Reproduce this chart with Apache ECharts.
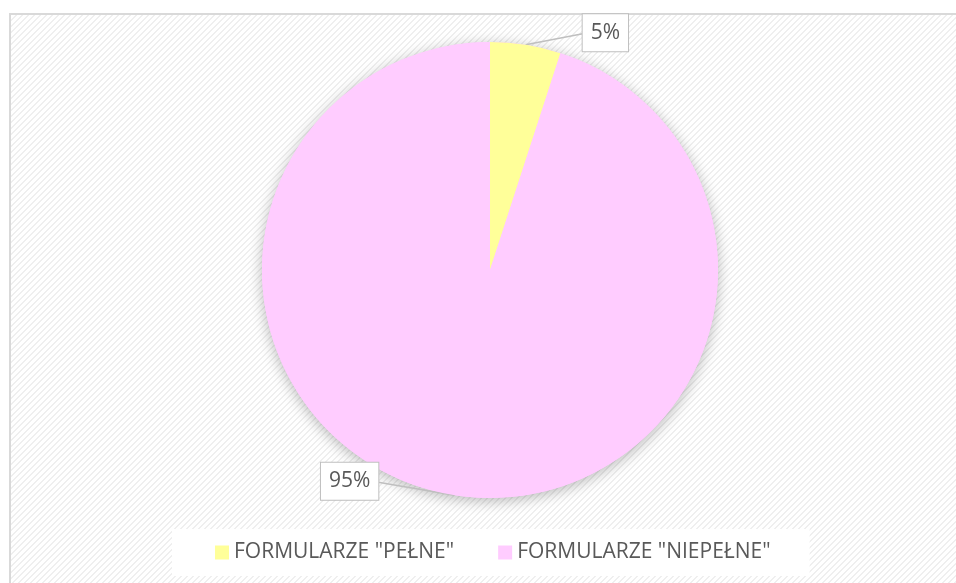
<!DOCTYPE html>
<html>
<head>
<meta charset="utf-8">
<style>
  html, body { margin: 0; padding: 0; background: #ffffff; }
  #chart { width: 956px; height: 583px; }
</style>
<script src="https://cdn.jsdelivr.net/npm/echarts@6/dist/echarts.min.js"></script>
</head>
<body>
<div id="chart"></div>
<script>
var categories = ['FORMULARZE "PEŁNE"', 'FORMULARZE "NIEPEŁNE"'];
var values = [5, 95];
var sliceColors = ['#ffff99', '#ffccff'];

// offsets of label boxes relative to each slice's label anchor (styling only)
var labelOffsets = [
  { dx: 57, dy: -12, align: 'left' },
  { dx: -76, dy: -14, align: 'right' }
];

function makePattern() {
  var c = document.createElement('canvas');
  c.width = 6; c.height = 6;
  var ctx = c.getContext('2d');
  ctx.fillStyle = '#ffffff';
  ctx.fillRect(0, 0, 6, 6);
  ctx.fillStyle = '#efefef';
  for (var y = 0; y < 6; y++) {
    for (var x = 0; x < 6; x++) {
      if (((x + y) % 6) < 2) ctx.fillRect(x, y, 1, 1);
    }
  }
  return c;
}

var chart = echarts.init(document.getElementById('chart'), null, { renderer: 'canvas' });
var total = values.reduce(function (s, v) { return s + v; }, 0);

var option = {
  backgroundColor: '#ffffff',
  animation: false,
  textStyle: { fontFamily: 'Open Sans' },
  graphic: [{
    type: 'rect',
    z: -10,
    silent: true,
    shape: { x: 10, y: 14, width: 960, height: 600 },
    style: { fill: { image: makePattern(), repeat: 'repeat' }, stroke: '#d9d9d9', lineWidth: 2 }
  }],
  legend: {
    data: categories,
    top: 529,
    left: 172,
    backgroundColor: '#ffffff',
    padding: [13, 39, 13, 43],
    itemGap: 44,
    itemWidth: 14,
    itemHeight: 14,
    icon: 'rect',
    selectedMode: false,
    textStyle: { fontFamily: 'Open Sans', fontSize: 21, color: '#595959', lineHeight: 20 }
  },
  series: [
    {
      type: 'pie',
      silent: true,
      z: 1,
      center: [490, 270],
      radius: 228,
      label: { show: false },
      labelLine: { show: false },
      itemStyle: {
        color: '#ffccff',
        shadowBlur: 14,
        shadowColor: 'rgba(0,0,0,0.28)',
        shadowOffsetY: 3
      },
      data: [{ value: total, name: '_shadow' }]
    },
    {
      type: 'pie',
      z: 2,
      center: [490, 270],
      radius: 228,
      startAngle: 90,
      clockwise: true,
      avoidLabelOverlap: false,
      color: sliceColors,
      itemStyle: { borderWidth: 0 },
      label: {
        show: true,
        position: 'outside',
        formatter: '{c}%',
        fontFamily: 'Open Sans',
        fontSize: 21,
        lineHeight: 21,
        color: '#595959',
        backgroundColor: '#ffffff',
        borderColor: '#bfbfbf',
        borderWidth: 1,
        padding: [8, 8, 8, 8]
      },
      labelLine: {
        show: true,
        length: 10,
        length2: 20,
        lineStyle: { color: '#bfbfbf', width: 1.5 }
      },
      labelLayout: function (p) {
        var pts = p.labelLinePoints;
        if (!pts) return {};
        var a = pts[0];
        var o = labelOffsets[p.dataIndex];
        var bx = a[0] + o.dx, by = a[1] + o.dy;
        return {
          x: bx, y: by, align: o.align, verticalAlign: 'middle',
          labelLinePoints: [[a[0], a[1]], [bx, by + 1], [bx, by + 1]]
        };
      },
      emphasis: { disabled: true },
      data: categories.map(function (n, i) { return { name: n, value: values[i] }; })
    }
  ]
};
chart.setOption(option);
</script>
</body>
</html>
